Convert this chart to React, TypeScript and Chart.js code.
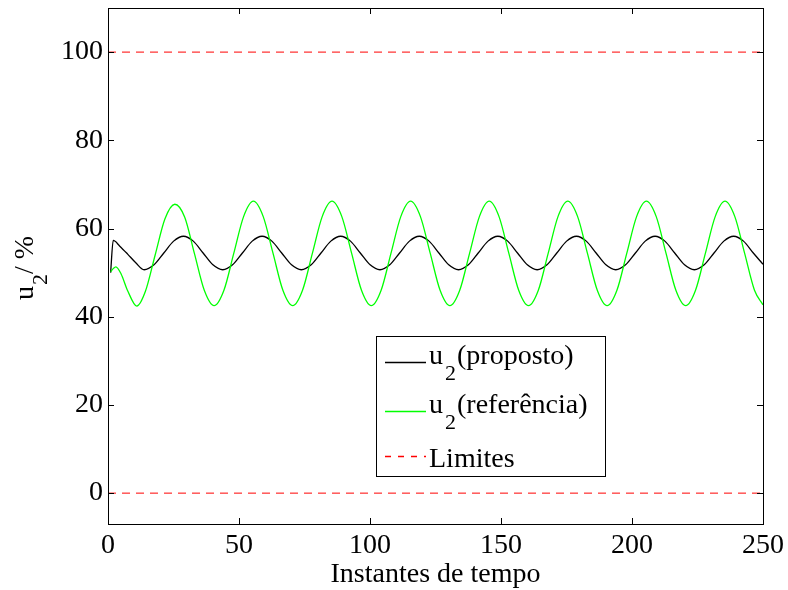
import React, { useEffect, useRef } from "react";
import { Chart, registerables } from "chart.js";

Chart.register(...registerables);

const xTicks = [0, 50, 100, 150, 200, 250];
const yTicks = [0, 20, 40, 60, 80, 100];

const propostoX = [
  1, 2, 4.5, 7.5, 10.5, 13.8,
  17.55, 21.3, 25.05, 28.8, 32.55, 36.3, 40.05, 43.8,
  47.55, 51.3, 55.05, 58.8, 62.55, 66.3, 70.05, 73.8,
  77.55, 81.3, 85.05, 88.8, 92.55, 96.3, 100.05, 103.8,
  107.55, 111.3, 115.05, 118.8, 122.55, 126.3, 130.05, 133.8,
  137.55, 141.3, 145.05, 148.8, 152.55, 156.3, 160.05, 163.8,
  167.55, 171.3, 175.05, 178.8, 182.55, 186.3, 190.05, 193.8,
  197.55, 201.3, 205.05, 208.8, 212.55, 216.3, 220.05, 223.8,
  227.55, 231.3, 235.05, 238.8, 242.55, 246.3, 250,
];
const propostoY = [
  50.0, 57.3, 56.0, 54.2, 52.3, 50.65,
  51.76, 54.45, 57.14, 58.25, 57.14, 54.45, 51.76, 50.65,
  51.76, 54.45, 57.14, 58.25, 57.14, 54.45, 51.76, 50.65,
  51.76, 54.45, 57.14, 58.25, 57.14, 54.45, 51.76, 50.65,
  51.76, 54.45, 57.14, 58.25, 57.14, 54.45, 51.76, 50.65,
  51.76, 54.45, 57.14, 58.25, 57.14, 54.45, 51.76, 50.65,
  51.76, 54.45, 57.14, 58.25, 57.14, 54.45, 51.76, 50.65,
  51.76, 54.45, 57.14, 58.25, 57.14, 54.45, 51.76, 50.65,
  51.76, 54.45, 57.14, 58.25, 57.14, 54.45, 51.9,
];

const referenciaX = [
  1, 2, 3, 5, 7.5, 11,
  14.25, 18, 21.75, 25.5, 29.25, 33, 36.75, 40.5,
  44.25, 48, 51.75, 55.5, 59.25, 63, 66.75, 70.5,
  74.25, 78, 81.75, 85.5, 89.25, 93, 96.75, 100.5,
  104.25, 108, 111.75, 115.5, 119.25, 123, 126.75, 130.5,
  134.25, 138, 141.75, 145.5, 149.25, 153, 156.75, 160.5,
  164.25, 168, 171.75, 175.5, 179.25, 183, 186.75, 190.5,
  194.25, 198, 201.75, 205.5, 209.25, 213, 216.75, 220.5,
  224.25, 228, 231.75, 235.5, 239.25, 243, 246.75, 250,
];
const referenciaY = [
  50.2, 50.9, 51.3, 49.7, 45.9, 42.4,
  45.7, 54.0, 62.2, 65.5, 62.6, 54.3, 46.0, 42.5,
  46.0, 54.35, 62.7, 66.2, 62.7, 54.35, 46.0, 42.5,
  46.0, 54.35, 62.7, 66.2, 62.7, 54.35, 46.0, 42.5,
  46.0, 54.35, 62.7, 66.2, 62.7, 54.35, 46.0, 42.5,
  46.0, 54.35, 62.7, 66.2, 62.7, 54.35, 46.0, 42.5,
  46.0, 54.35, 62.7, 66.2, 62.7, 54.35, 46.0, 42.5,
  46.0, 54.35, 62.7, 66.2, 62.7, 54.35, 46.0, 42.5,
  46.0, 54.35, 62.7, 66.2, 62.7, 54.35, 46.0, 42.7,
];

const limitsX = [0, 250];
const limitInferior = [0, 0];
const limitSuperior = [100, 100];

const FONT = "'Liberation Serif', 'Times New Roman', serif";
const BLACK = "#000000";
const GREEN = "#00ff00";
const RED = "#ff0000";
const DASH = [8, 6];

const zip = (xs: number[], ys: number[]) => xs.map((x, i) => ({ x, y: ys[i] }));

const decorPlugin = {
  id: "decor",
  afterDraw(chart: any) {
    const { ctx, chartArea } = chart;
    const { left, right, top, bottom } = chartArea;
    const xs = chart.scales.x;
    const ys = chart.scales.y;
    ctx.save();
    // box
    ctx.strokeStyle = "#000";
    ctx.lineWidth = 1;
    ctx.setLineDash([]);
    ctx.strokeRect(Math.round(left) + 0.5, Math.round(top) + 0.5, Math.round(right - left), Math.round(bottom - top));
    // ticks inward
    ctx.beginPath();
    const tl = 6;
    xTicks.forEach((v) => {
      const px = Math.round(xs.getPixelForValue(v)) + 0.5;
      ctx.moveTo(px, bottom);
      ctx.lineTo(px, bottom - tl);
      ctx.moveTo(px, top);
      ctx.lineTo(px, top + tl);
    });
    yTicks.forEach((v) => {
      const py = Math.round(ys.getPixelForValue(v)) + 0.5;
      ctx.moveTo(left, py);
      ctx.lineTo(left + tl, py);
      ctx.moveTo(right, py);
      ctx.lineTo(right - tl, py);
    });
    ctx.stroke();

    // x title
    ctx.fillStyle = "#000";
    ctx.font = `28px ${FONT}`;
    ctx.textAlign = "center";
    ctx.textBaseline = "alphabetic";
    ctx.fillText("Instantes de tempo", (left + right) / 2, 582);

    // y title rotated
    ctx.save();
    ctx.translate(33, 300);
    ctx.rotate(-Math.PI / 2);
    ctx.textAlign = "left";
    ctx.font = `28px ${FONT}`;
    ctx.fillText("u", 0, 0);
    let w = ctx.measureText("u").width;
    ctx.font = `22px ${FONT}`;
    ctx.fillText("2", w + 1, 14);
    w += 1 + ctx.measureText("2").width;
    ctx.font = `28px ${FONT}`;
    ctx.fillText("/ %", w, 0);
    ctx.restore();

    // legend
    const lx = 376.5, ly = 336.5, lw = 229, lh = 140;
    ctx.fillStyle = "#fff";
    ctx.fillRect(lx, ly, lw, lh);
    ctx.strokeStyle = "#000";
    ctx.lineWidth = 1;
    ctx.strokeRect(lx, ly, lw, lh);

    const rows = [
      { color: BLACK, dash: [] as number[], label: "(proposto)", sub: true, lineY: 362.5, base: 364 },
      { color: GREEN, dash: [] as number[], label: "(referência)", sub: true, lineY: 411.5, base: 413 },
      { color: RED, dash: [6, 7], label: "Limites", sub: false, lineY: 456.5, base: 467 },
    ];
    rows.forEach((r) => {
      ctx.save();
      ctx.beginPath();
      ctx.strokeStyle = r.color;
      ctx.lineWidth = 1.5;
      ctx.setLineDash(r.dash);
      ctx.moveTo(385, r.lineY);
      ctx.lineTo(426, r.lineY);
      ctx.stroke();
      ctx.restore();
      ctx.fillStyle = "#000";
      ctx.textAlign = "left";
      ctx.font = `28px ${FONT}`;
      let x = 429;
      if (r.sub) {
        ctx.fillText("u", x, r.base);
        x += ctx.measureText("u").width + 2;
        ctx.font = `22px ${FONT}`;
        ctx.fillText("2", x, r.base + 16);
        x += ctx.measureText("2").width + 1;
        ctx.font = `28px ${FONT}`;
      }
      ctx.fillText(r.label, x, r.base);
    });
    ctx.restore();
  },
};

export default function App() {
  const ref = useRef<HTMLCanvasElement | null>(null);
  useEffect(() => {
    if (!ref.current) return;
    Chart.defaults.font.family = FONT;
    const chart = new Chart(ref.current, {
      type: "line",
      data: {
        datasets: [
          {
            label: "Limites",
            data: zip(limitsX, limitSuperior),
            borderColor: RED,
            borderWidth: 1,
            borderDash: DASH,
            pointRadius: 0,
            fill: false,
            order: 0,
          },
          {
            label: "Limites inf",
            data: zip(limitsX, limitInferior),
            borderColor: RED,
            borderWidth: 1,
            borderDash: DASH,
            pointRadius: 0,
            fill: false,
            order: 0,
          },
          {
            label: "u2(referência)",
            data: zip(referenciaX, referenciaY),
            borderColor: GREEN,
            borderWidth: 1.3,
            pointRadius: 0,
            cubicInterpolationMode: "monotone",
            fill: false,
            order: 1,
          },
          {
            label: "u2(proposto)",
            data: zip(propostoX, propostoY),
            borderColor: BLACK,
            borderWidth: 1.3,
            pointRadius: 0,
            cubicInterpolationMode: "monotone",
            fill: false,
            order: 2,
          },
        ],
      },
      options: {
        animation: false,
        responsive: false,
        events: [],
        layout: { padding: { left: 0, top: 8, right: 25, bottom: 0 } },
        plugins: { legend: { display: false }, tooltip: { enabled: false } },
        scales: {
          x: {
            type: "linear",
            min: 0,
            max: 250,
            afterBuildTicks: (s: any) => {
              s.ticks = xTicks.map((v) => ({ value: v }));
            },
            afterFit: (s: any) => {
              s.height = 66;
              s.paddingLeft = 0;
              s.paddingRight = 0;
            },
            grid: { display: false, drawTicks: false },
            border: { display: false },
            ticks: { color: "#000", font: { size: 28, family: FONT }, padding: 5, maxRotation: 0, autoSkip: false },
          },
          y: {
            type: "linear",
            min: -7,
            max: 110,
            afterBuildTicks: (s: any) => {
              s.ticks = yTicks.map((v) => ({ value: v }));
            },
            afterFit: (s: any) => {
              s.width = 108;
              s.paddingTop = 0;
              s.paddingBottom = 0;
            },
            grid: { display: false, drawTicks: false },
            border: { display: false },
            ticks: { color: "#000", font: { size: 28, family: FONT }, padding: 5 },
          },
        },
      },
      plugins: [decorPlugin],
    } as any);
    return () => chart.destroy();
  }, []);
  return (
    <div style={{ position: "fixed", left: 0, top: 0, width: 788, height: 590, background: "#fff" }}>
      <canvas ref={ref} width={788} height={590} style={{ width: 788, height: 590 }} />
    </div>
  );
}
